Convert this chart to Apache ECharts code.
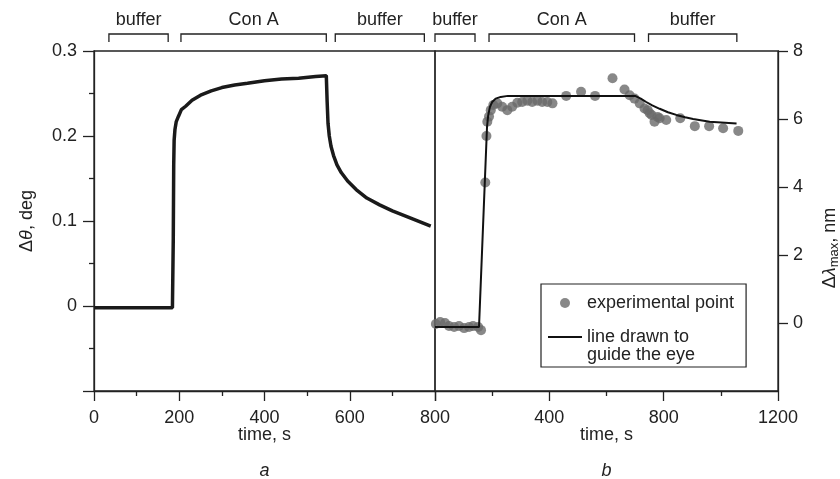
<!DOCTYPE html>
<html>
<head>
<meta charset="utf-8">
<script src="https://cdn.jsdelivr.net/npm/echarts@6/dist/echarts.min.js"></script>
<style>
  html, body { margin: 0; padding: 0; background: #fff; }
  #chart { width: 840px; height: 479px; }
</style>
</head>
<body>
<div id="chart"></div>
<script>
// Panel a: SPR angle shift over time
const thetaTime  = [0, 40, 80, 120, 160, 184, 186, 187, 188, 190, 193, 198, 205, 215, 230, 250, 275, 300, 330, 360, 400, 440, 480, 520, 545,
                    547, 549, 552, 556, 562, 570, 580, 595, 615, 640, 670, 700, 740, 790];
const thetaShift = [-0.002, -0.002, -0.002, -0.002, -0.002, -0.002, 0.08, 0.165, 0.195, 0.208, 0.217, 0.223, 0.231, 0.235, 0.242, 0.248, 0.253, 0.257, 0.26, 0.262, 0.265, 0.267, 0.268, 0.27, 0.271,
                    0.24, 0.215, 0.2, 0.188, 0.177, 0.166, 0.157, 0.147, 0.137, 0.127, 0.119, 0.112, 0.104, 0.094];

// Panel b: plasmon band shift, measured points
const pointTime  = [3, 18, 35, 49, 67, 84, 102, 119, 133, 151, 161, 176, 180, 183, 189, 195, 204, 218, 235, 253, 270, 288, 305, 323, 340, 358, 375, 393, 411,
                    459, 511, 560, 621, 663, 681, 698, 716, 733, 744, 751, 758, 768, 779, 786, 809, 858, 909, 959, 1008, 1061];
const pointShift = [-0.03, 0.03, 0, -0.09, -0.12, -0.09, -0.15, -0.12, -0.09, -0.12, -0.21, 4.13, 5.5, 5.92, 6.07, 6.26, 6.41, 6.46, 6.36, 6.26, 6.36, 6.48, 6.5, 6.54, 6.5, 6.54, 6.5, 6.5, 6.46,
                    6.68, 6.8, 6.68, 7.2, 6.87, 6.7, 6.6, 6.46, 6.31, 6.26, 6.17, 6.12, 5.92, 6.06, 6.02, 5.97, 6.02, 5.79, 5.79, 5.73, 5.65];

// Panel b: guide line
const guideTime  = [0, 154, 182, 186, 192, 200, 212, 230, 255, 700, 720, 739, 760, 786, 815, 844, 875, 903, 961, 1055];
const guideShift = [-0.12, -0.12, 5.77, 6.1, 6.35, 6.5, 6.6, 6.65, 6.68, 6.68, 6.6, 6.5, 6.4, 6.3, 6.2, 6.12, 6.05, 6.0, 5.92, 5.87];

// Solution phases marked above each panel
const phaseLabels = ['buffer', 'Con A', 'buffer'];
const phaseStartA = [35, 204, 566];
const phaseEndA   = [174, 545, 775];
const phaseStartB = [0, 189, 747];
const phaseEndB   = [140, 698, 1056];

const legendNames = ['experimental point', 'line drawn to\nguide the eye'];

const INK = '#222';
const FONT = 'Liberation Sans, Arial, Helvetica, sans-serif';
// thin horizontal bar centred in a 34x10 legend box (corner moves keep the box size)
const LINE_ICON = 'path://M0,0L0.01,0M0,4.1L34,4.1L34,5.9L0,5.9ZM34,10L33.99,10';

const zip = (xs, ys) => xs.map((x, i) => [x, ys[i]]);

function phaseSeries(xIdx, yIdx, starts, ends, yTop) {
  return {
    type: 'custom',
    xAxisIndex: xIdx,
    yAxisIndex: yIdx,
    clip: false,
    silent: true,
    encode: { x: [0, 1], y: 2 },
    data: starts.map((s, i) => [s, ends[i], yTop]),
    renderItem: function (params, api) {
      const a = api.coord([api.value(0), api.value(2)]);
      const b = api.coord([api.value(1), api.value(2)]);
      const yBar = a[1] - 17;
      const yEnd = a[1] - 9;
      return {
        type: 'group',
        children: [
          {
            type: 'polyline',
            shape: { points: [[a[0], yEnd], [a[0], yBar], [b[0], yBar], [b[0], yEnd]] },
            style: { stroke: INK, lineWidth: 1.3, fill: null }
          },
          {
            type: 'text',
            style: {
              text: phaseLabels[params.dataIndex],
              x: (a[0] + b[0]) / 2,
              y: yBar - 14,
              align: 'center',
              verticalAlign: 'middle',
              fill: INK,
              fontSize: 18,
              fontFamily: FONT
            }
          }
        ]
      };
    }
  };
}

const axisLineStyle = { show: true, onZero: false, lineStyle: { color: INK, width: 1.3 } };
const labelStyle = { color: INK, fontSize: 18, fontFamily: FONT };
const plain = v => String(Math.round(v * 1000) / 1000);
const timeName = { lineHeight: 20, rich: { s: { fontStyle: 'italic', fontSize: 18, lineHeight: 52, fontFamily: FONT, color: INK } } };

const chart = echarts.init(document.getElementById('chart'), null, { renderer: 'canvas' });

chart.setOption({
  animation: false,
  backgroundColor: '#fff',
  textStyle: { fontFamily: FONT },
  grid: [
    { left: 94, right: 405, top: 51, bottom: 88, outerBoundsMode: 'none', containLabel: false,
      show: true, borderColor: INK, borderWidth: 1.3, backgroundColor: 'transparent' },
    { left: 435, right: 62, top: 51, bottom: 88, outerBoundsMode: 'none', containLabel: false,
      show: true, borderColor: INK, borderWidth: 1.3, backgroundColor: 'transparent' }
  ],
  legend: {
    orient: 'vertical',
    left: 541,
    top: 284,
    padding: [9, 12, 3, 7],
    itemGap: -3,
    itemWidth: 34,
    itemHeight: 10,
    borderColor: INK,
    borderWidth: 1.2,
    selectedMode: false,
    formatter: name => (name === legendNames[1] ? ' \n' + name : name),
    textStyle: { color: INK, fontSize: 18, fontFamily: FONT, lineHeight: 18 },
    data: [
      { name: legendNames[0], icon: 'circle', textStyle: { lineHeight: 20 } },
      { name: legendNames[1], icon: LINE_ICON, itemStyle: { color: '#111', borderWidth: 0 }, textStyle: { lineHeight: 18 } }
    ]
  },
  xAxis: [
    {
      type: 'value', gridIndex: 0, min: 0, max: 800, interval: 200,
      axisLine: axisLineStyle,
      axisTick: { show: true, length: 10, lineStyle: { color: INK, width: 1.3 } },
      minorTick: { show: true, splitNumber: 2, length: 5, lineStyle: { color: INK, width: 1.3 } },
      splitLine: { show: false },
      axisLabel: Object.assign({ margin: 18, formatter: plain }, labelStyle),
      name: 'time, s\n{s|a}',
      nameLocation: 'middle',
      nameGap: 34,
      nameMoveOverlap: false,
      nameTextStyle: Object.assign({}, timeName, labelStyle)
    },
    {
      type: 'value', gridIndex: 1, min: 0, max: 1200, interval: 400,
      axisLine: axisLineStyle,
      axisTick: { show: true, length: 10, lineStyle: { color: INK, width: 1.3 } },
      minorTick: { show: true, splitNumber: 2, length: 5, lineStyle: { color: INK, width: 1.3 } },
      splitLine: { show: false },
      axisLabel: Object.assign({ margin: 18, showMinLabel: false, formatter: plain }, labelStyle),
      name: 'time, s\n{s|b}',
      nameLocation: 'middle',
      nameGap: 34,
      nameMoveOverlap: false,
      nameTextStyle: Object.assign({}, timeName, labelStyle)
    }
  ],
  yAxis: [
    {
      type: 'value', gridIndex: 0, position: 'left', min: -0.1, max: 0.3, interval: 0.1,
      axisLine: axisLineStyle,
      axisTick: { show: true, length: 11, lineStyle: { color: INK, width: 1.3 } },
      minorTick: { show: true, splitNumber: 2, length: 5, lineStyle: { color: INK, width: 1.3 } },
      splitLine: { show: false },
      axisLabel: Object.assign({ margin: 17, showMinLabel: false, formatter: plain }, labelStyle),
      name: '{g|Δ}{i|θ}{g|, deg}',
      nameLocation: 'middle',
      nameRotate: 90,
      nameGap: 58,
      nameMoveOverlap: false,
      nameTextStyle: {
        color: INK, fontSize: 18, fontFamily: FONT,
        rich: {
          g: { fontSize: 18, fontFamily: FONT, color: INK },
          i: { fontSize: 18, fontFamily: FONT, color: INK, fontStyle: 'italic' }
        }
      }
    },
    {
      type: 'value', gridIndex: 1, position: 'right', min: -2, max: 8, interval: 2,
      axisLine: axisLineStyle,
      axisTick: { show: true, length: 10, lineStyle: { color: INK, width: 1.3 } },
      splitLine: { show: false },
      axisLabel: Object.assign({ margin: 15, showMinLabel: false, formatter: plain }, labelStyle),
      name: '{g|Δ}{i|λ}{sub|max}{g|, nm}',
      nameLocation: 'middle',
      nameRotate: 90,
      nameGap: 41,
      nameMoveOverlap: false,
      nameTextStyle: {
        color: INK, fontSize: 18, fontFamily: FONT,
        padding: [0, 54, 0, 0],
        rich: {
          g: { fontSize: 18, lineHeight: 22, fontFamily: FONT, color: INK },
          i: { fontSize: 18, lineHeight: 22, fontFamily: FONT, color: INK, fontStyle: 'italic' },
          sub: { fontSize: 13, lineHeight: 13, fontFamily: FONT, color: INK, verticalAlign: 'bottom' }
        }
      }
    }
  ],
  series: [
    {
      name: 'Δθ',
      type: 'line',
      xAxisIndex: 0,
      yAxisIndex: 0,
      data: zip(thetaTime, thetaShift),
      showSymbol: false,
      lineStyle: { color: '#1a1a1a', width: 3.5 },
      z: 3
    },
    {
      name: legendNames[0],
      type: 'scatter',
      xAxisIndex: 1,
      yAxisIndex: 1,
      data: zip(pointTime, pointShift),
      symbol: 'circle',
      symbolSize: 10,
      itemStyle: { color: '#6a6a6a' },
      z: 2
    },
    {
      name: legendNames[1],
      type: 'line',
      xAxisIndex: 1,
      yAxisIndex: 1,
      data: zip(guideTime, guideShift),
      showSymbol: false,
      symbol: 'none',
      lineStyle: { color: '#111', width: 2 },
      itemStyle: { color: '#111' },
      z: 3
    },
    phaseSeries(0, 0, phaseStartA, phaseEndA, 0.3),
    phaseSeries(1, 1, phaseStartB, phaseEndB, 8)
  ]
});
</script>
</body>
</html>
